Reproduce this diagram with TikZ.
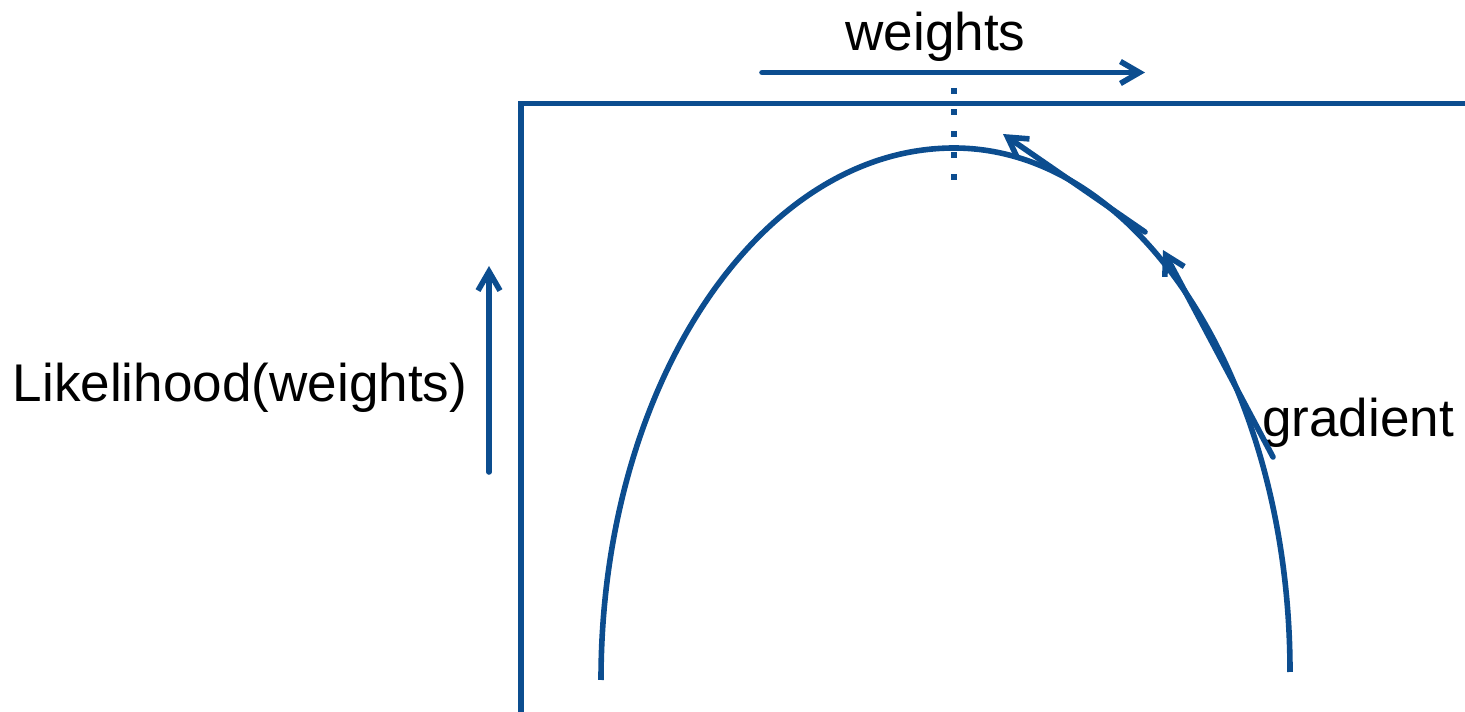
\documentclass[tikz,border=0pt]{standalone}
\usepackage{fontspec}
\setmainfont{Liberation Sans}
\usetikzlibrary{arrows.meta}
\definecolor{axisblue}{RGB}{12,77,143}
\tikzset{
  blueline/.style={draw=axisblue, line width=5.6*0.02cm},
  barb/.style={blueline, -{Straight Barb[length=0.38cm, width=0.44cm, line width=5.6*0.02cm]}, line cap=round},
  lbl/.style={font=\fontsize{30.2}{36}\selectfont, text=black, inner sep=0pt, anchor=base},
  dotline/.style={draw=axisblue, line width=5.6*0.02cm, dash pattern=on 6*0.02cm off 15.5*0.02cm}
}
\begin{document}
\begin{tikzpicture}[x=0.02cm, y=-0.02cm]
\useasboundingbox (0,0) rectangle (1465,712);
% axes
\coordinate (ybot) at (521,712);
\coordinate (corner) at (521,103.5);
\coordinate (xend) at (1465,103.5);
\draw[blueline] (ybot) -- (corner) -- (xend);
% labels
\node[lbl] (wlab) at (935.5,51) {weights};
\node[lbl] (llab) at (240,402) {Likelihood(weights)};
\node[lbl] (glab) at (1358,437) {gradient};
% direction arrows
\coordinate (wa) at (762,72.5);
\coordinate (wb) at (1145,72.5);
\draw[barb] (wa) -- (wb);
\coordinate (la) at (489,472);
\coordinate (lb) at (489,266);
\draw[barb] (la) -- (lb);
% dotted line at the maximum
\coordinate (da) at (954,88);
\coordinate (db) at (954,182);
\draw[dotline] (da) -- (db);
% curve
\coordinate (cl) at (601,680);
\coordinate (cp) at (954,148);
\coordinate (cr) at (1290,672);
\draw[blueline] (cl) .. controls (601,386) and (759,148) .. (cp)
                     .. controls (1139.5,148) and (1290,383) .. (cr);
% gradient arrows
\coordinate (g1a) at (1145,232);
\coordinate (g1b) at (1003,134);
\draw[barb] (g1a) -- (g1b);
\coordinate (g2a) at (1273,457);
\coordinate (g2b) at (1163,250);
\draw[barb] (g2a) -- (g2b);
\end{tikzpicture}
\end{document}
